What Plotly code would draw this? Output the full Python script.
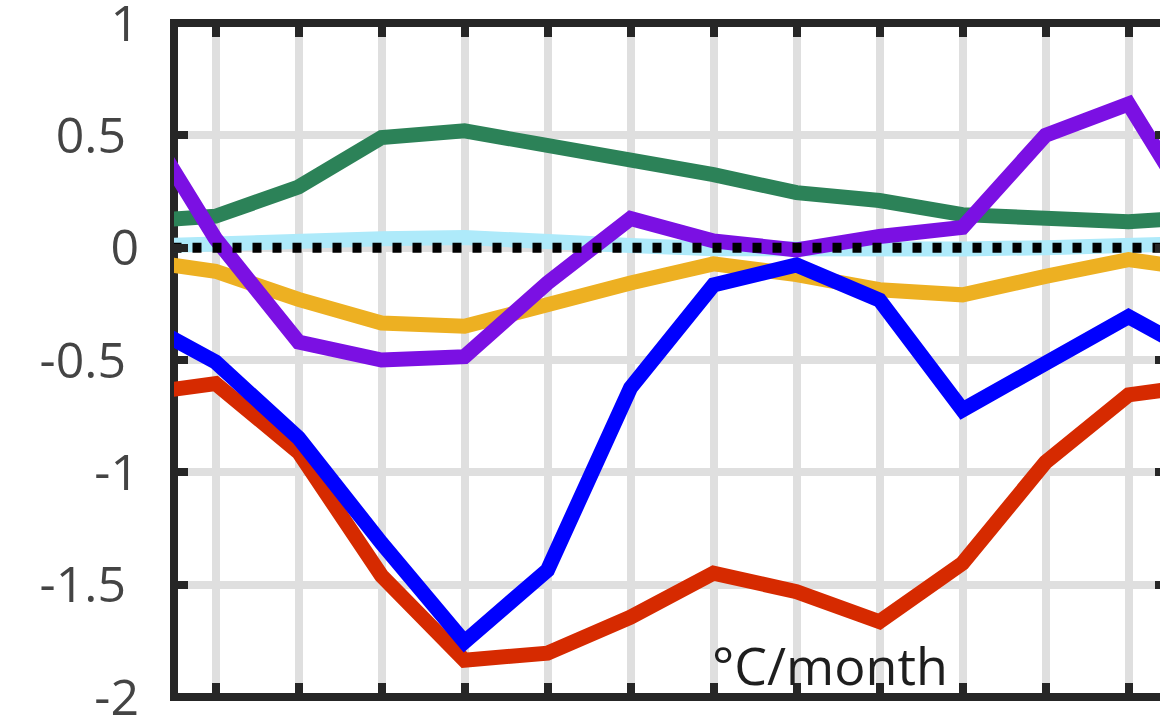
import plotly.graph_objects as go

months = [1, 2, 3, 4, 5, 6, 7, 8, 9, 10, 11, 12]

green = [0.14, 0.27, 0.49, 0.52, 0.457, 0.39, 0.325, 0.245, 0.21, 0.147, 0.13, 0.115]
purple = [0.04, -0.42, -0.50, -0.485, -0.157, 0.13, 0.03, -0.01, 0.05, 0.09, 0.50, 0.64]
lightblue = [0.02, 0.035, 0.04, 0.045, 0.035, 0.01, -0.005, -0.01, -0.01, -0.006, 0.0, 0.005]
orange = [-0.105, -0.23, -0.335, -0.35, -0.245, -0.157, -0.072, -0.12, -0.187, -0.21, -0.128, -0.053]
blue = [-0.509, -0.847, -1.315, -1.755, -1.435, -0.624, -0.166, -0.077, -0.233, -0.722, -0.522, -0.307]
red = [-0.605, -0.91, -1.46, -1.836, -1.805, -1.645, -1.449, -1.531, -1.665, -1.405, -0.955, -0.655]
zero = [0.0] * 12

ytickvals = [1, 0.5, 0, -0.5, -1, -1.5, -2]
yticktext = ["1", "0.5", "0", "-0.5", "-1", "-1.5", "-2"]

unit_label = "°C/month"
panel_label = "(c)"


def wrap(vals):
    # cyclic annual data: prepend December (month 0) and append January (month 13)
    return [0] + months + [13], [vals[-1]] + vals + [vals[0]]


def pad_label(t):
    # MATLAB-style label placement: decimal labels sit a bit further left
    return t + "\u00a0" if "." in t else t


fig = go.Figure()

series = [
    (lightblue, "#aeeafa", 15, "solid"),
    (green, "#2c8258", 15, "solid"),
    (orange, "#edb022", 15, "solid"),
    (red, "#d62a00", 15, "solid"),
    (blue, "#0000ff", 15, "solid"),
    (purple, "#7b10e3", 15, "solid"),
    (zero, "#000000", 10, "9px,11px"),
]
for vals, col, w, dash in series:
    xs, ys = wrap(vals)
    fig.add_trace(go.Scatter(x=xs, y=ys, mode="lines",
                             line=dict(color=col, width=w, dash=dash),
                             showlegend=False, hoverinfo="skip"))

# helper trace for right-side inward ticks
fig.add_trace(go.Scatter(x=[None], y=[None], yaxis="y2", showlegend=False, hoverinfo="skip"))

AX = "#262626"
ex = 4 / 986
ey = 4 / 674
frame = [
    dict(type="line", xref="paper", yref="paper", x0=0, x1=0, y0=-ey, y1=1 + ey),
    dict(type="line", xref="paper", yref="paper", x0=-ex, x1=1, y0=1, y1=1),
    dict(type="line", xref="paper", yref="paper", x0=-ex, x1=1, y0=0, y1=0),
]
for s in frame:
    s["line"] = dict(color=AX, width=8)
    s["layer"] = "between"

fig.update_layout(
    template="none",
    width=1160, height=719,
    margin=dict(l=174, r=0, t=23, b=22, pad=0),
    paper_bgcolor="white", plot_bgcolor="white",
    font=dict(family="Open Sans", color="#444444"),
    hovermode=False,
    shapes=frame,
    xaxis=dict(range=[0.5, 0.5 + 986 / 83], tickvals=months, showticklabels=False,
               ticks="inside", ticklen=14, tickwidth=8, tickcolor=AX,
               showline=False, mirror="ticks",
               showgrid=True, gridcolor="#dfdfdf", gridwidth=8, zeroline=False,
               automargin=False),
    yaxis=dict(range=[-2, 1], tickvals=ytickvals, ticktext=[pad_label(t) for t in yticktext],
               ticks="inside", ticklen=14, tickwidth=8, tickcolor=AX,
               showline=False,
               showgrid=True, gridcolor="#dfdfdf", gridwidth=8, zeroline=False,
               tickfont=dict(size=50, color="#444444", family="Open Sans"),
               ticklabelstandoff=34, ticklabeloverflow="allow",
               automargin=False),
    yaxis2=dict(range=[-2, 1], tickvals=ytickvals, overlaying="y", side="right",
                ticks="inside", ticklen=5, tickwidth=8, tickcolor=AX,
                showline=False, showgrid=False, zeroline=False, showticklabels=False,
                automargin=False),
    annotations=[
        dict(text=unit_label, x=6.96, y=-2, xref="x", yref="y", xanchor="left",
             yanchor="bottom", yshift=-5, showarrow=False,
             font=dict(size=52, color="#1e1e1e", family="Open Sans")),
        dict(text=panel_label, x=6.28, y=1, xref="x", yref="paper", xanchor="center",
             yanchor="bottom", yshift=19, showarrow=False,
             font=dict(size=44, color="#1e1e1e", family="Open Sans")),
    ],
)

fig.write_html("out.html", config={"displayModeBar": False},
               post_script="document.body.style.margin='0';document.body.style.overflow='hidden';")
